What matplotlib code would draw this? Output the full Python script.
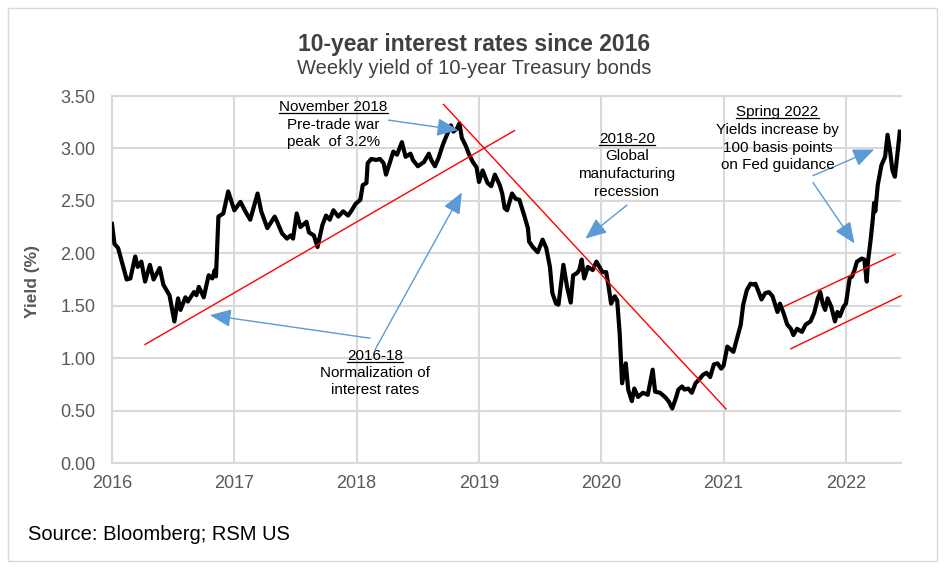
import matplotlib.pyplot as plt
from matplotlib.patches import Rectangle
from matplotlib.lines import Line2D

plt.rcParams['font.family'] = ['Liberation Sans', 'DejaVu Sans']

# weekly 10-year Treasury yield (decimal year, %)
week = [
    2016.00, 2016.02, 2016.05, 2016.12, 2016.15, 2016.19, 2016.21, 2016.24, 2016.27, 2016.31,
    2016.34, 2016.39, 2016.42, 2016.47, 2016.51, 2016.54, 2016.56, 2016.60, 2016.62, 2016.67,
    2016.69, 2016.71, 2016.75, 2016.79, 2016.82, 2016.84, 2016.85, 2016.87, 2016.91, 2016.95,
    2016.98,
    2017.00, 2017.05, 2017.09, 2017.13, 2017.19, 2017.22, 2017.27, 2017.33, 2017.35, 2017.39,
    2017.43, 2017.46, 2017.48, 2017.51, 2017.54, 2017.59, 2017.61, 2017.65, 2017.68, 2017.72,
    2017.75, 2017.78, 2017.81, 2017.85, 2017.89, 2017.93, 2017.96, 2017.99,
    2018.03, 2018.05, 2018.08, 2018.09, 2018.12, 2018.16, 2018.19, 2018.22, 2018.24, 2018.27,
    2018.30, 2018.33, 2018.37, 2018.40, 2018.44, 2018.46, 2018.50, 2018.55, 2018.59, 2018.61,
    2018.64, 2018.67, 2018.70, 2018.72, 2018.77, 2018.79, 2018.82, 2018.84, 2018.86, 2018.89,
    2018.92, 2018.95, 2018.98,
    2019.00, 2019.03, 2019.07, 2019.10, 2019.13, 2019.17, 2019.19, 2019.21, 2019.23, 2019.27,
    2019.30, 2019.33, 2019.37, 2019.40, 2019.41, 2019.44, 2019.48, 2019.52, 2019.55, 2019.58,
    2019.60, 2019.63, 2019.65, 2019.69, 2019.72, 2019.75, 2019.77, 2019.80, 2019.82, 2019.84,
    2019.86, 2019.89, 2019.93, 2019.96, 2019.99,
    2020.01, 2020.04, 2020.06, 2020.08, 2020.11, 2020.13, 2020.15, 2020.17, 2020.20, 2020.22,
    2020.25, 2020.27, 2020.30, 2020.34, 2020.38, 2020.42, 2020.44, 2020.48, 2020.52, 2020.55,
    2020.58, 2020.61, 2020.63, 2020.66, 2020.68, 2020.71, 2020.74, 2020.77, 2020.81, 2020.83,
    2020.86, 2020.89, 2020.92, 2020.95, 2020.98,
    2021.00, 2021.03, 2021.06, 2021.08, 2021.11, 2021.14, 2021.16, 2021.19, 2021.22, 2021.25,
    2021.26, 2021.29, 2021.31, 2021.34, 2021.37, 2021.40, 2021.44, 2021.46, 2021.49, 2021.52,
    2021.55, 2021.57, 2021.60, 2021.64, 2021.67, 2021.71, 2021.74, 2021.77, 2021.79, 2021.81,
    2021.83, 2021.85, 2021.88, 2021.91, 2021.93, 2021.95, 2021.98,
    2022.00, 2022.03, 2022.05, 2022.07, 2022.09, 2022.13, 2022.15, 2022.17, 2022.18, 2022.20,
    2022.22, 2022.23, 2022.24, 2022.26, 2022.29, 2022.32, 2022.34, 2022.36, 2022.38, 2022.40,
    2022.42, 2022.44,
]
yield_pct = [
    2.28, 2.09, 2.05, 1.75, 1.76, 1.97, 1.87, 1.92, 1.73, 1.89,
    1.75, 1.86, 1.70, 1.60, 1.35, 1.57, 1.46, 1.58, 1.54, 1.63,
    1.60, 1.68, 1.58, 1.79, 1.76, 1.84, 1.78, 2.35, 2.38, 2.59,
    2.48,
    2.41, 2.49, 2.40, 2.32, 2.57, 2.40, 2.24, 2.35, 2.30, 2.19,
    2.14, 2.17, 2.14, 2.38, 2.25, 2.30, 2.20, 2.17, 2.06, 2.27,
    2.36, 2.32, 2.41, 2.35, 2.40, 2.36, 2.41, 2.47,
    2.51, 2.65, 2.67, 2.86, 2.90, 2.89, 2.90, 2.86, 2.75, 2.86,
    2.97, 2.94, 3.06, 2.92, 2.95, 2.89, 2.83, 2.87, 2.95, 2.89,
    2.83, 2.91, 3.02, 3.08, 3.22, 3.16, 3.19, 3.24, 3.10, 3.03,
    2.94, 2.87, 2.82,
    2.68, 2.79, 2.67, 2.64, 2.75, 2.65, 2.57, 2.43, 2.41, 2.57,
    2.52, 2.51, 2.36, 2.24, 2.11, 2.06, 2.01, 2.13, 2.05, 1.87,
    1.62, 1.52, 1.51, 1.89, 1.68, 1.53, 1.79, 1.81, 1.84, 1.94,
    1.76, 1.87, 1.84, 1.92, 1.86,
    1.82, 1.82, 1.68, 1.52, 1.59, 1.55, 1.24, 0.76, 0.95, 0.70,
    0.59, 0.71, 0.63, 0.67, 0.65, 0.89, 0.68, 0.67, 0.63, 0.59,
    0.52, 0.62, 0.70, 0.73, 0.70, 0.71, 0.67, 0.76, 0.81, 0.84,
    0.86, 0.82, 0.94, 0.95, 0.90,
    0.93, 1.11, 1.08, 1.06, 1.19, 1.32, 1.51, 1.65, 1.71, 1.70,
    1.71, 1.62, 1.56, 1.62, 1.63, 1.59, 1.44, 1.52, 1.43, 1.32,
    1.28, 1.22, 1.28, 1.25, 1.32, 1.35, 1.43, 1.57, 1.63, 1.52,
    1.46, 1.57, 1.49, 1.35, 1.44, 1.40, 1.49,
    1.52, 1.76, 1.78, 1.84, 1.92, 1.95, 1.94, 1.73, 1.92, 2.11,
    2.33, 2.48, 2.40, 2.65, 2.84, 2.92, 3.13, 2.98, 2.79, 2.73,
    2.94, 3.16,
]

year_ticks = [2016, 2017, 2018, 2019, 2020, 2021, 2022]
yield_ticks = [0.0, 0.5, 1.0, 1.5, 2.0, 2.5, 3.0, 3.5]

# red trend lines drawn over the chart: (start, end)
trend_lines = [
    ((2016.27, 1.13), (2019.29, 3.17)),
    ((2018.71, 3.42), (2021.02, 0.515)),
    ((2021.49, 1.49), (2022.40, 1.99)),
    ((2021.55, 1.09), (2022.45, 1.595)),
]

# blue callout arrows: (tail, tip)
arrows = [
    ((2018.26, 3.27), (2018.83, 3.175)),
    ((2018.11, 1.19), (2016.80, 1.41)),
    ((2018.15, 1.08), (2018.86, 2.58)),
    ((2020.21, 2.46), (2019.87, 2.14)),
    ((2021.73, 2.74), (2022.23, 2.99)),
    ((2021.73, 2.675), (2022.07, 2.094)),
]

# callout texts: x centre, baselines, lines (first line underlined)
notes = [
    (2017.81, [3.356, 3.19, 3.022], ["November 2018", "Pre-trade war", "peak  of 3.2%"]),
    (2020.21, [3.055, 2.89, 2.72, 2.55], ["2018-20", "Global", "manufacturing", "recession"]),
    (2021.44, [3.31, 3.14, 2.97, 2.80], ["Spring 2022", "Yields increase by", "100 basis points", "on Fed guidance"]),
    (2018.15, [0.98, 0.82, 0.655], ["2016-18", "Normalization of", "interest rates"]),
]

W, H = 944, 569
fig = plt.figure(figsize=(W / 100, H / 100), dpi=100)
fig.add_artist(Rectangle((8 / W, 8 / H), 929 / W, 553 / H, transform=fig.transFigure,
                         fill=False, edgecolor='#D9D9D9', lw=1))

ax = fig.add_axes([112 / W, 1 - 463 / H, 789 / W, 367 / H])
ax.plot(week, yield_pct, color='black', lw=3, solid_joinstyle='round', zorder=3)

ax.set_xlim(2016, 2022.45)
ax.set_ylim(0, 3.5)
ax.set_xticks(year_ticks)
ax.set_xticklabels([str(y) for y in year_ticks])
ax.set_yticks(yield_ticks)
ax.set_yticklabels(['%.2f' % v for v in yield_ticks])
ax.grid(color='#D9D9D9', lw=1.5)
ax.set_axisbelow(True)
for side in ['left', 'bottom', 'top']:
    ax.spines[side].set_color('#D9D9D9')
    ax.spines[side].set_linewidth(1.5)
ax.spines['right'].set_visible(False)
ax.tick_params(axis='both', length=0, colors='#595959', labelsize=13)
ax.tick_params(axis='y', pad=12)
ax.tick_params(axis='x', pad=9)

for (x0, y0), (x1, y1) in trend_lines:
    ax.plot([x0, x1], [y0, y1], color='red', lw=1, zorder=4, clip_on=False)

for tail, tip in arrows:
    ax.annotate('', xy=tip, xytext=tail, zorder=5,
                arrowprops=dict(arrowstyle='-|>,head_length=1.3,head_width=0.55',
                                color='#5B9BD5', lw=1, shrinkA=0, shrinkB=0,
                                mutation_scale=10))

heads = []
for x, ys, lines in notes:
    for i, (y, s) in enumerate(zip(ys, lines)):
        t = ax.text(x, y, s, ha='center', va='baseline', fontsize=11, color='black', zorder=6)
        if i == 0:
            heads.append((t, y))

fig.text(474 / W, 1 - 44 / H, '10-year interest rates since 2016', ha='center', va='center',
         fontsize=16.5, fontweight='bold', color='#404040')
fig.text(474 / W, 1 - 69 / H, 'Weekly yield of 10-year Treasury bonds', ha='center', va='center',
         fontsize=14.5, color='#404040')
fig.text(32 / W, 1 - 281 / H, 'Yield (%)', rotation=90, ha='center', va='center',
         fontsize=12.5, fontweight='bold', color='#595959')
fig.text(28 / W, 1 - 535 / H, 'Source: Bloomberg; RSM US', ha='left', va='center',
         fontsize=14.5, color='black')

# underline the first line of each callout
fig.canvas.draw()
renderer = fig.canvas.get_renderer()
inv = fig.transFigure.inverted()
for t, y in heads:
    bb = t.get_window_extent(renderer)
    base = ax.transData.transform((0, y))[1] - 2
    (fx0, fy), (fx1, _) = inv.transform([(bb.x0, base), (bb.x1, base)])
    fig.add_artist(Line2D([fx0, fx1], [fy, fy], transform=fig.transFigure, color='black', lw=0.9))

fig.savefig('out.png', dpi=100, facecolor='white')
